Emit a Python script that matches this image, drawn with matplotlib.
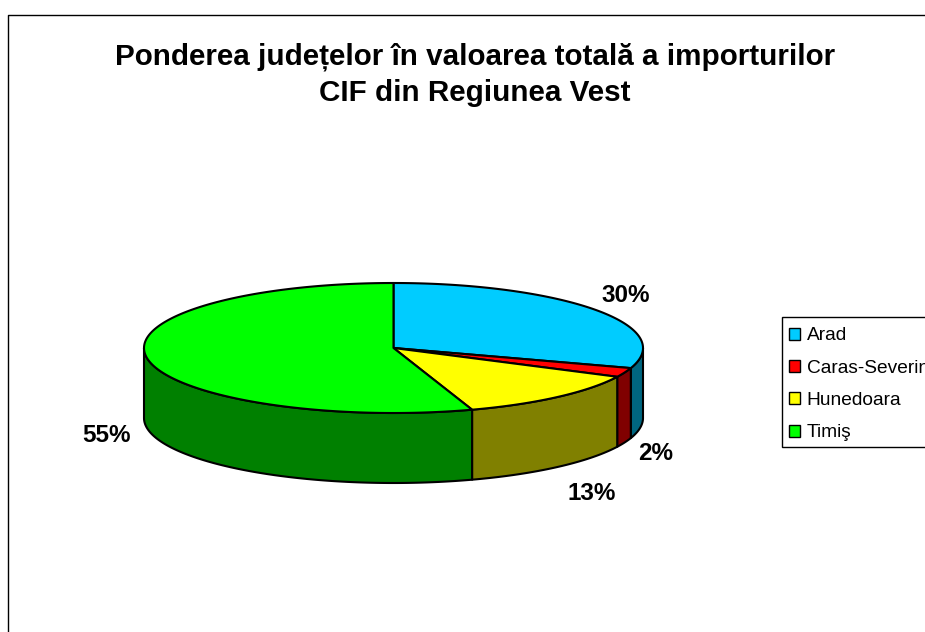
import numpy as np
import matplotlib
matplotlib.use("Agg")
import matplotlib.pyplot as plt
from matplotlib.patches import Polygon, Patch, Rectangle

plt.rcParams["font.family"] = ["Liberation Sans", "DejaVu Sans"]

title = "Ponderea județelor în valoarea totală a importurilor\nCIF din Regiunea Vest"
categories = ["Arad", "Caras-Severin", "Hunedoara", "Timiş"]
values = [30.0, 2.3, 12.6, 55.1]
top_colors = ["#00CCFF", "#FF0000", "#FFFF00", "#00FF00"]
side_colors = ["#006680", "#800000", "#808000", "#008000"]

cx, cy = 393.5, 348
rx, ry = 249.5, 65
depth = 70
label_pos = [(626, 295), (656, 453), (592, 493), (107, 436)]


def arc(a0, a1, dy=0):
    # angles in degrees, clockwise from 12 o'clock
    n = max(2, int(abs(a1 - a0)) * 2 + 2)
    t = np.radians(np.linspace(a0, a1, n))
    return np.column_stack([cx + rx * np.sin(t), cy - ry * np.cos(t) + dy])


fig = plt.figure(figsize=(9.25, 6.32), dpi=100)
ax = fig.add_axes([0, 0, 1, 1])
ax.set_xlim(0, 925)
ax.set_ylim(632, 0)
ax.axis("off")

ax.plot([8, 8, 925], [632, 15, 15], color="black", lw=1)

edges = np.concatenate([[0], np.cumsum(values)]) / sum(values) * 360

# side walls, only the front half of the pie shows
for i in range(len(values)):
    a0, a1 = max(edges[i], 90), min(edges[i + 1], 270)
    if a1 <= a0:
        continue
    pts = np.vstack([arc(a0, a1), arc(a1, a0, depth)])
    ax.add_patch(Polygon(pts, closed=True, facecolor=side_colors[i],
                         edgecolor="black", lw=1.5, joinstyle="round"))

# top face
for i in range(len(values)):
    pts = np.vstack([[[cx, cy]], arc(edges[i], edges[i + 1])])
    ax.add_patch(Polygon(pts, closed=True, facecolor=top_colors[i],
                         edgecolor="black", lw=1.5, joinstyle="round"))

for v, (x, y) in zip(values, label_pos):
    ax.text(x, y, f"{v:.0f}%", ha="center", va="center", fontsize=17.5,
            fontweight="bold", color="black")

ax.text(475, 74.5, title, ha="center", va="center", fontsize=21.3,
        fontweight="bold", color="black", linespacing=1.38)

# legend frame runs past the right edge, as in the original
ax.add_patch(Rectangle((782, 317), 160, 130, facecolor="white",
                       edgecolor="black", lw=1))
handles = [Patch(facecolor=c, edgecolor="black", lw=1) for c in top_colors]
ax.legend(handles, categories, loc="upper left", bbox_to_anchor=(782, 320.5),
          bbox_transform=ax.transData, fontsize=13.8, frameon=False,
          borderaxespad=0, borderpad=0.365,
          handlelength=0.57, handleheight=0.57, handletextpad=0.36,
          labelspacing=0.80)

fig.savefig("out.png", dpi=100)
